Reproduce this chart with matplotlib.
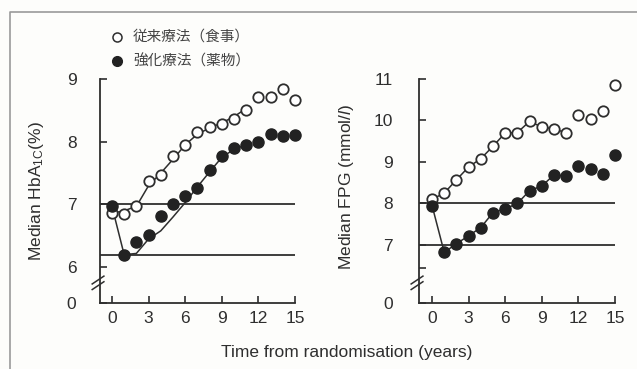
import numpy as np
import matplotlib
matplotlib.use('Agg')
import matplotlib.pyplot as plt

plt.rcParams['font.family'] = ['Liberation Sans', 'Noto Sans CJK JP', 'DejaVu Sans']
plt.rcParams['mathtext.fontset'] = 'custom'
plt.rcParams['mathtext.rm'] = 'Liberation Sans'
plt.rcParams['mathtext.it'] = 'Liberation Sans:italic'

years = np.arange(0, 16)

# HbA1c (%)
hba_conv = [6.87, 6.85, 6.98, 7.38, 7.47, 7.77, 7.95, 8.15, 8.24, 8.28, 8.37, 8.5, 8.71, 8.71, 8.84, 8.67]
hba_int = [6.97, 6.2, 6.41, 6.51, 6.82, 7.01, 7.14, 7.27, 7.55, 7.77, 7.9, 7.95, 7.99, 8.13, 8.09, 8.1]
fit_years = np.arange(0, 12)
hba_conv_fit = [6.86, 6.9, 6.97, 7.3, 7.5, 7.72, 7.95, 8.12, 8.22, 8.3, 8.4, 8.53]
hba_int_fit = [6.97, 6.2, 6.22, 6.45, 6.58, 6.8, 7.03, 7.28, 7.52, 7.75, 7.88, 7.95]
hba_refs = [7.0, 6.2]

# FPG (mmol/l)
fpg_conv = [8.1, 8.25, 8.57, 8.88, 9.08, 9.38, 9.7, 9.71, 9.98, 9.84, 9.8, 9.7, 10.14, 10.03, 10.23, 10.85]
fpg_int = [7.95, 6.82, 7.03, 7.22, 7.42, 7.78, 7.87, 8.0, 8.31, 8.42, 8.69, 8.66, 8.9, 8.82, 8.72, 9.17]
fpg_refs = [8.0, 7.0]

legend_labels = ['従来療法（食事）', '強化療法（薬物）']

ink = '#2e2e2e'
bg = '#fdfdfb'

fig = plt.figure(figsize=(6.37, 3.69), dpi=100, facecolor=bg)

W, H = 637, 369


def make_ax(left_px, right_px, top_px, bot_px):
    return fig.add_axes([left_px / W, 1 - bot_px / H, (right_px - left_px) / W, (bot_px - top_px) / H])


def style(ax, ylo, yhi, yticks, ylabels, extra_ticks, ypad):
    ax.set_facecolor('none')
    for s in ['top', 'right']:
        ax.spines[s].set_visible(False)
    for s in ['left', 'bottom']:
        ax.spines[s].set_color(ink)
        ax.spines[s].set_linewidth(1.3)
    ax.set_ylim(ylo, yhi)
    ax.set_yticks(list(yticks) + list(extra_ticks))
    ax.set_yticklabels(list(ylabels) + [''] * len(extra_ticks))
    ax.set_xticks([0, 3, 6, 9, 12, 15])
    ax.tick_params(direction='in', length=5, width=1.2, colors=ink, labelsize=12.5, pad=6)
    ax.tick_params(axis='y', pad=ypad)
    # axis break marks
    for dy in (0.0, 0.025):
        ax.plot([-0.04, 0.02], [0.06 + dy, 0.095 + dy], transform=ax.transAxes,
                color=ink, lw=1.1, clip_on=False)


# left panel
ax1 = make_ax(100, 295, 79, 303)
ax1.set_xlim(-0.98, 15)
for r in hba_refs:
    ax1.plot([-0.98, 15], [r, r], color=ink, lw=1.3)
ax1.plot(fit_years, hba_conv_fit, color=ink, lw=1.1)
ax1.plot(fit_years, hba_int_fit, color=ink, lw=1.1)
ax1.plot(years, hba_conv, 'o', ms=7.5, mfc='white', mec=ink, mew=1.3, clip_on=False, zorder=3)
ax1.plot(years, hba_int, 'o', ms=8, mfc='#222222', mec='#222222', clip_on=False, zorder=4)
style(ax1, 5.43, 9.0, [5.43, 6, 7, 8, 9], ['0', '6', '7', '8', '9'], [], 17)
ax1.set_ylabel('Median HbA$_{\\mathrm{1C}}$(%)', fontsize=12.5, color=ink)
ax1.yaxis.set_label_coords(-0.277, 0.5)

# right panel
ax2 = make_ax(419, 615, 79, 303)
ax2.set_xlim(-1.07, 15)
for r in fpg_refs:
    ax2.plot([-1.07, 15], [r, r], color=ink, lw=1.3)
ax2.plot(fit_years, fpg_conv[:12], color=ink, lw=1.1)
ax2.plot(fit_years, fpg_int[:12], color=ink, lw=1.1)
ax2.plot(years, fpg_conv, 'o', ms=7.5, mfc='white', mec=ink, mew=1.3, clip_on=False, zorder=3)
ax2.plot(years, fpg_int, 'o', ms=8, mfc='#222222', mec='#222222', clip_on=False, zorder=4)
style(ax2, 5.6, 11.0, [5.6, 7, 8, 9, 10, 11], ['0', '7', '8', '9', '10', '11'], [6.45], 19)
ax2.set_ylabel('Median FPG (mmol/$\\mathit{l}$)', fontsize=12.5, color=ink)
ax2.yaxis.set_label_coords(-0.321, 0.52)

# legend
fig.lines.append(plt.Line2D([117 / W], [1 - 37 / H], marker='o', ms=6.5, mfc='white',
                            mec=ink, mew=1.1, transform=fig.transFigure))
fig.lines.append(plt.Line2D([117 / W], [1 - 61 / H], marker='o', ms=7, mfc='#222222',
                            mec='#222222', transform=fig.transFigure))
fig.text(133 / W, 1 - 37 / H, legend_labels[0], fontsize=10.5, color='#444444', va='center',
         family=['Noto Sans CJK JP'])
fig.text(133 / W, 1 - 61 / H, legend_labels[1], fontsize=10.5, color='#444444', va='center',
         family=['Noto Sans CJK JP'])

fig.text(347 / W, 1 - 352 / H, 'Time from randomisation (years)', fontsize=12.5,
         color=ink, ha='center', va='center')

# scan frame
fig.lines.append(plt.Line2D([10 / W, 10 / W, 1.0], [0, 1 - 12 / H, 1 - 12 / H],
                            color='#9a9a9a', lw=1.2, transform=fig.transFigure))

fig.savefig('out.png', dpi=100, facecolor=bg)
